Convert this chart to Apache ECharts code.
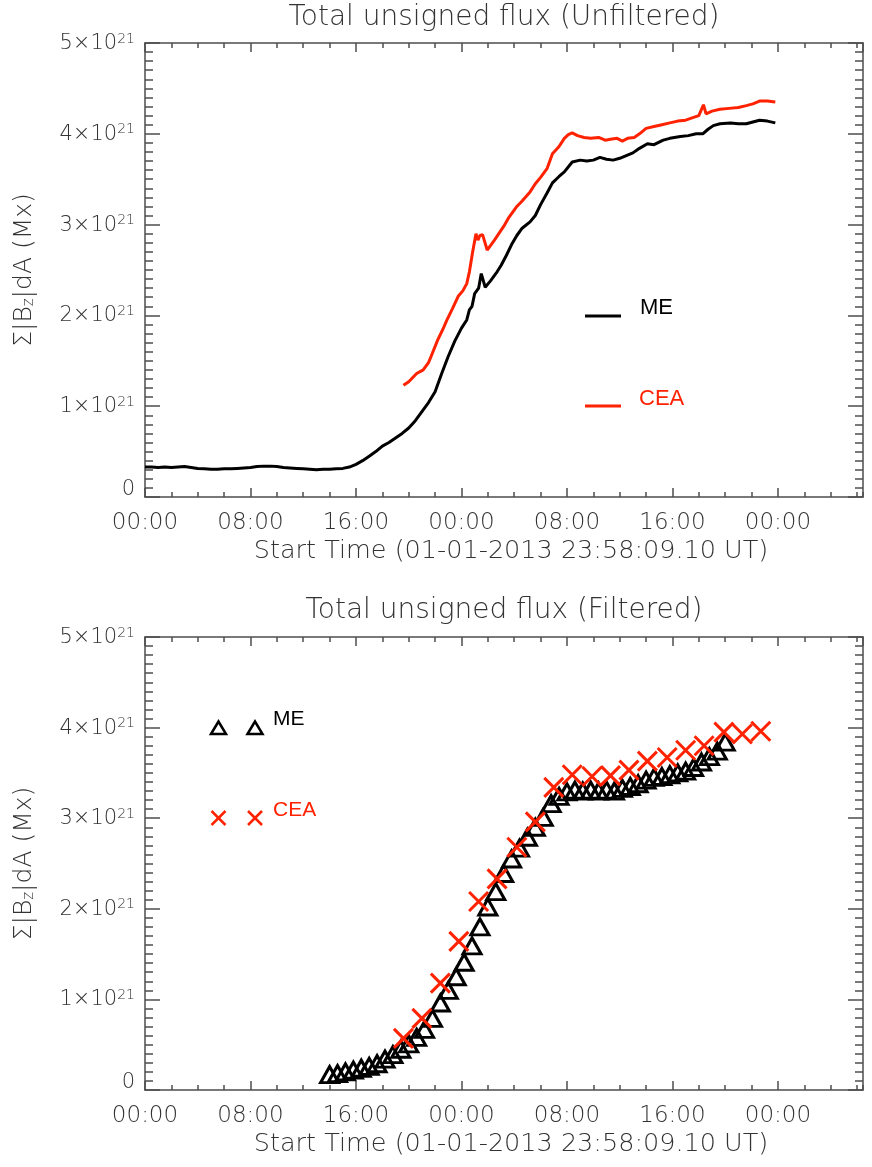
<!DOCTYPE html>
<html><head><meta charset="utf-8">
<script src="https://cdn.jsdelivr.net/npm/echarts@6/dist/echarts.min.js"></script>
<style>html,body{margin:0;padding:0;background:#fff}#c{width:872px;height:1167px}</style>
</head><body><div id="c"></div>
<script>
// ---- tick labels ----
const xTickLabels = ['00:00','08:00','16:00','00:00','08:00','16:00','00:00'];
const yTickMantissa = ['0','1','2','3','4','5'];
const titles = ['Total unsigned flux (Unfiltered)', 'Total unsigned flux (Filtered)'];
const xAxisName = 'Start Time (01-01-2013 23:58:09.10 UT)';
const seriesNames = ['ME', 'CEA'];

// ---- data (hours since start, flux in 10^21 Mx) ----
const meUnfilteredHours = [0,0.5,1,1.5,2,2.5,3,3.5,4,4.5,5,5.5,6,6.5,7,7.5,8,8.5,9,9.5,10,10.5,11,11.5,12,12.5,13,13.5,14,14.5,15,15.5,16,16.5,17,17.5,18,18.5,19,19.5,20,20.5,21,21.5,22,22.5,23,23.5,24,24.4,24.6,24.8,25.0,25.3,25.5,25.8,26.2,26.7,27.0,27.4,27.8,28.2,28.6,29.2,29.6,30.0,30.5,30.9,31.4,31.8,32.4,33.0,33.5,34.0,34.5,35.0,35.5,36.0,36.5,37.0,37.5,38.1,38.6,39.3,39.8,40.6,41.2,41.8,42.3,42.7,43.1,43.6,44.4,45.0,45.6,46.1,46.6,47.2,47.8];
const meUnfilteredFlux = [0.33,0.33,0.325,0.33,0.325,0.33,0.335,0.325,0.315,0.31,0.305,0.305,0.31,0.31,0.315,0.32,0.325,0.335,0.34,0.34,0.335,0.325,0.32,0.315,0.31,0.305,0.30,0.305,0.305,0.31,0.315,0.33,0.36,0.40,0.45,0.50,0.56,0.60,0.65,0.70,0.76,0.84,0.94,1.04,1.16,1.36,1.55,1.72,1.86,1.95,2.06,2.10,2.24,2.30,2.46,2.31,2.38,2.48,2.55,2.66,2.78,2.88,2.96,3.03,3.10,3.22,3.35,3.46,3.53,3.58,3.69,3.71,3.70,3.71,3.74,3.72,3.71,3.73,3.76,3.79,3.84,3.89,3.88,3.93,3.95,3.97,3.98,4.00,4.00,4.05,4.09,4.11,4.12,4.11,4.11,4.13,4.15,4.14,4.12];

const ceaUnfilteredHours = [19.6,20.0,20.6,21.1,21.5,21.7,22.2,22.6,22.9,23.3,23.75,24.1,24.4,24.6,24.85,25.1,25.25,25.4,25.6,25.95,26.5,27.2,27.6,28.2,28.6,29.2,29.6,30.0,30.5,30.9,31.4,31.8,32.1,32.4,32.8,33.3,33.8,34.4,34.9,35.3,35.8,36.2,36.6,37.1,37.5,38.0,38.6,39.2,39.8,40.4,41.0,41.6,42.0,42.35,42.55,43.0,43.6,44.3,45.0,45.6,46.1,46.6,47.2,47.8];
const ceaUnfilteredFlux = [1.23,1.27,1.36,1.40,1.48,1.55,1.73,1.85,1.95,2.07,2.21,2.27,2.35,2.48,2.70,2.90,2.83,2.88,2.89,2.72,2.83,2.98,3.08,3.20,3.26,3.36,3.45,3.52,3.62,3.78,3.86,3.95,3.99,4.01,3.98,3.96,3.95,3.96,3.93,3.94,3.95,3.92,3.95,3.96,4.00,4.06,4.08,4.10,4.12,4.14,4.15,4.18,4.20,4.32,4.22,4.25,4.27,4.28,4.29,4.31,4.33,4.36,4.36,4.35];

const meFilteredHours = [14.0,14.6,15.2,15.8,16.4,17.0,17.6,18.2,18.8,19.4,20.0,20.6,21.2,21.8,22.4,23.0,23.6,24.2,24.8,25.4,26.0,26.6,27.2,27.8,28.4,29.0,29.6,30.2,30.8,31.4,32.0,32.6,33.2,33.8,34.4,35.0,35.6,36.2,36.8,37.4,38.0,38.6,39.2,39.8,40.4,41.0,41.6,42.2,42.8,43.4,44.0];
const meFilteredFlux = [0.17,0.18,0.20,0.22,0.24,0.26,0.29,0.34,0.39,0.45,0.51,0.58,0.67,0.79,0.96,1.10,1.25,1.41,1.59,1.80,2.02,2.19,2.39,2.55,2.67,2.79,2.90,3.01,3.16,3.24,3.29,3.31,3.30,3.31,3.30,3.31,3.30,3.33,3.35,3.38,3.42,3.45,3.46,3.48,3.50,3.52,3.56,3.62,3.68,3.74,3.84];

const ceaFilteredHours = [19.6,21.0,22.4,23.8,25.3,26.7,28.2,29.6,31.0,32.4,33.9,35.3,36.7,38.1,39.6,41.0,42.4,43.9,45.3,46.7];
const ceaFilteredFlux = [0.57,0.79,1.18,1.64,2.08,2.33,2.68,2.96,3.34,3.48,3.46,3.47,3.53,3.63,3.67,3.75,3.80,3.95,3.93,3.96];

const zip = (a, b) => a.map((v, i) => [v, b[i]]);

const X_MAX = 54.45;
const AX = '#4d4d4d';
const TXT = '#333';
const RED = '#ff2200';
const FONT = '"DejaVu Sans", sans-serif';
const LFONT = '"Liberation Sans", Arial, sans-serif';
const GRIDS = [{left:145, top:43, width:718, height:454}, {left:145, top:637, width:718, height:453}];

function xAxes(g) {
  const base = {type:'value', gridIndex:g, min:0, max:X_MAX, splitLine:{show:false},
    axisLine:{show:true, onZero:false, lineStyle:{color:AX, width:1.5}}};
  const tick = (len) => ({show:true, inside:true, length:len, lineStyle:{color:AX, width:1.5}});
  return [
    Object.assign({}, base, {position:'bottom', interval:8, axisTick:tick(9),
      axisLabel:{show:true, margin:15, fontSize:23, lineHeight:23, fontFamily:FONT, fontWeight:200, color:TXT,
        showMaxLabel:false, showMinLabel:true,
        formatter: v => xTickLabels[Math.round(v/8)] || ''},
      name:xAxisName, nameLocation:'middle', nameGap:42,
      nameTextStyle:{fontSize:25.5, lineHeight:25, fontFamily:FONT, fontWeight:200, color:TXT, padding:[0,0,0,14]}}),
    Object.assign({}, base, {position:'bottom', interval:2, axisLine:{show:false, onZero:false},
      axisTick:tick(5), axisLabel:{show:false}}),
    Object.assign({}, base, {position:'top', interval:8, axisTick:tick(9), axisLabel:{show:false}}),
    Object.assign({}, base, {position:'top', interval:2, axisLine:{show:false, onZero:false},
      axisTick:tick(5), axisLabel:{show:false}})
  ];
}
function yAxes(g) {
  const base = {type:'value', gridIndex:g, min:0, max:5, interval:1, splitLine:{show:false},
    axisLine:{show:true, onZero:false, lineStyle:{color:AX, width:1.5}},
    axisTick:{show:true, inside:true, length:15, lineStyle:{color:AX, width:1.5}},
    minorTick:{show:true, splitNumber:10, length:8, lineStyle:{color:AX, width:1.5}},
    minorSplitLine:{show:false}};
  return [
    Object.assign({}, base, {position:'left',
      axisLabel:{show:true, margin:10, color:TXT, fontFamily:FONT,
        formatter: v => { const m = yTickMantissa[Math.round(v)]; return m === '0' ? '{z|0}' : '{b|' + m + '×10}{s|21}'; },
        rich:{
          z:{fontSize:21, lineHeight:22, padding:[0,0,14,0], fontFamily:FONT, fontWeight:200, color:TXT},
          b:{fontSize:21, lineHeight:22, padding:[6,0,0,0], verticalAlign:'bottom', fontFamily:FONT, fontWeight:200, color:TXT},
          s:{fontSize:14, lineHeight:14, verticalAlign:'top', fontFamily:FONT, fontWeight:200, color:TXT}
        }},
      name:'{a|Σ|B}{s|z}{a||dA (Mx)}', nameLocation:'middle', nameGap:108, nameRotate:90,
      nameTextStyle:{color:TXT, fontFamily:FONT, rich:{
        a:{fontSize:25, lineHeight:25, padding:[0,0,7,0], verticalAlign:'top', fontFamily:FONT, fontWeight:200, color:TXT},
        s:{fontSize:15, lineHeight:15, verticalAlign:'bottom', fontFamily:FONT, fontWeight:200, color:TXT}
      }}}),
    Object.assign({}, base, {position:'right', axisLabel:{show:false}})
  ];
}

const tri = (cx, cy) => ({type:'polygon', shape:{points:[[cx-7.5,cy+6],[cx,cy-6.5],[cx+7.5,cy+6]]},
  style:{fill:'none', stroke:'#000', lineWidth:2.5}, silent:true});
const cross = (cx, cy) => ([
  {type:'line', shape:{x1:cx-7,y1:cy-7,x2:cx+7,y2:cy+7}, style:{stroke:RED, lineWidth:2.5}, silent:true},
  {type:'line', shape:{x1:cx-7,y1:cy+7,x2:cx+7,y2:cy-7}, style:{stroke:RED, lineWidth:2.5}, silent:true}
]);
const gtext = (x, y, t, size, color, font, align, weight) => ({type:'text', x:x, y:y, silent:true,
  style:{text:t, fontSize:size, fontFamily:font, fontWeight:weight || 'normal', fill:color, align:align, verticalAlign:'middle'}});

const option = {
  backgroundColor:'#fff',
  animation:false,
  grid: GRIDS.map(g => Object.assign({containLabel:false, outerBoundsMode:'none'}, g)),
  xAxis: xAxes(0).concat(xAxes(1)),
  yAxis: yAxes(0).concat(yAxes(1)),
  series: [
    {name:seriesNames[0], type:'line', xAxisIndex:0, yAxisIndex:0, data:zip(meUnfilteredHours, meUnfilteredFlux),
      showSymbol:false, symbol:'none', lineStyle:{color:'#000', width:3, opacity:1}, itemStyle:{color:'#000'}, silent:true, z:3},
    {name:seriesNames[1], type:'line', xAxisIndex:0, yAxisIndex:0, data:zip(ceaUnfilteredHours, ceaUnfilteredFlux),
      showSymbol:false, symbol:'none', lineStyle:{color:RED, width:3, opacity:1}, itemStyle:{color:RED}, silent:true, z:3},
    {name:seriesNames[0], type:'scatter', xAxisIndex:4, yAxisIndex:2, data:zip(meFilteredHours, meFilteredFlux),
      symbol:'triangle', symbolSize:[18,16], itemStyle:{color:'rgba(0,0,0,0)', borderColor:'#000', borderWidth:3, opacity:1}, silent:true, z:3},
    {name:seriesNames[1], type:'scatter', xAxisIndex:4, yAxisIndex:2, data:zip(ceaFilteredHours, ceaFilteredFlux),
      symbol:'path://M0,0L10,10M10,0L0,10', symbolSize:19, itemStyle:{color:'rgba(0,0,0,0)', borderColor:RED, borderWidth:3, opacity:1}, silent:true, z:4}
  ],
  graphic: [
    gtext(504, 18, titles[0], 28, TXT, FONT, 'center', 200),
    gtext(504, 611, titles[1], 28, TXT, FONT, 'center', 200),
    // top legend
    {type:'line', shape:{x1:585, y1:316, x2:621, y2:316}, style:{stroke:'#000', lineWidth:3}, silent:true},
    gtext(640, 308, seriesNames[0], 22, '#000', LFONT, 'left'),
    {type:'line', shape:{x1:585, y1:406, x2:621, y2:406}, style:{stroke:RED, lineWidth:3}, silent:true},
    gtext(639, 399, seriesNames[1], 22, RED, LFONT, 'left'),
    // bottom legend
    tri(218.5, 728), tri(255, 728),
    gtext(273, 719, seriesNames[0], 21, '#000', LFONT, 'left'),
    ...cross(218.5, 818), ...cross(255, 818),
    gtext(273, 810, seriesNames[1], 21, RED, LFONT, 'left')
  ]
};
const chart = echarts.init(document.getElementById('c'), null, {renderer:'canvas'});
chart.setOption(option);
</script></body></html>
